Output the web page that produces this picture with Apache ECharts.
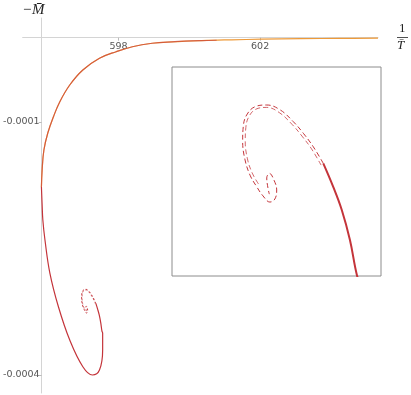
<!DOCTYPE html>
<html>
<head>
<meta charset="utf-8">
<script src="https://cdn.jsdelivr.net/npm/echarts@6/dist/echarts.min.js"></script>
<style>
  html, body { margin: 0; padding: 0; background: #fff; }
  #chart { width: 411px; height: 395px; }
</style>
</head>
<body>
<div id="chart"></div>
<script>
// tick labels
var xTicks = [598, 602];
var yTicks = [-0.0001, -0.0004];

// orange branch: from large 1/T down to the turning point
var orangeX = [605.33, 604.27, 603.15, 602.03, 601.19, 600.35, 599.51, 598.95, 598.39, 597.93, 597.46, 596.99, 596.62, 596.34, 596.16, 596.00, 595.89, 595.84, 595.82];
var orangeY = [-0.0000006, -0.0000008, -0.0000012, -0.0000018, -0.0000025, -0.0000034, -0.0000049, -0.0000066, -0.0000107, -0.0000166, -0.0000244, -0.0000383, -0.0000561, -0.0000759, -0.0000937, -0.000113, -0.0001332, -0.0001569, -0.0001771];

// red branch, upper part (lies on the orange one)
var redUpX = [600.77, 600.35, 599.51, 598.95, 598.39, 597.93, 597.46, 596.99, 596.62, 596.34, 596.16, 596.00, 595.89, 595.84, 595.82];
var redUpY = [-0.0000030, -0.0000034, -0.0000049, -0.0000066, -0.0000107, -0.0000166, -0.0000244, -0.0000383, -0.0000561, -0.0000759, -0.0000937, -0.000113, -0.0001332, -0.0001569, -0.0001771];

// red branch, lower part down into the spiral (solid)
var redX = [595.82, 595.84, 595.86, 595.92, 596.06, 596.30, 596.62, 596.99, 597.26, 597.46, 597.55, 597.55, 597.53, 597.494, 597.453, 597.410, 597.360];
var redY = [-0.0001771, -0.0001985, -0.0002162, -0.000240, -0.0002795, -0.0003191, -0.0003586, -0.0003903, -0.0004001, -0.0003942, -0.0003704, -0.0003506, -0.000348, -0.0003376, -0.0003289, -0.0003222, -0.0003154];

// dashed spiral (two close curves)
var dashAX = [597.360, 597.310, 597.260, 597.209, 597.143, 597.076, 597.017, 596.975, 596.958, 596.955, 596.967, 596.992, 597.026, 597.057, 597.092, 597.117, 597.126, 597.112, 597.090, 597.076, 597.082, 597.089];
var dashAY = [-0.0003154, -0.0003106, -0.0003067, -0.0003033, -0.0002999, -0.0002985, -0.000299, -0.0003014, -0.0003048, -0.0003091, -0.0003144, -0.0003188, -0.0003222, -0.0003248, -0.0003266, -0.0003257, -0.0003231, -0.0003202, -0.0003183, -0.0003196, -0.0003225, -0.0003243];
var dashBX = [597.349, 597.301, 597.253, 597.203, 597.139, 597.076, 597.022, 596.986, 596.971, 596.968, 596.979, 597.003, 597.035];
var dashBY = [-0.0003159, -0.0003112, -0.0003075, -0.0003041, -0.0003007, -0.0002992, -0.0002997, -0.0003019, -0.000305, -0.0003091, -0.0003141, -0.0003182, -0.0003214];

function pairs(xs, ys) {
  return xs.map(function (x, i) { return [x, ys[i]]; });
}

var RED = '#c4343a';
var ORANGE = '#ee9a38';

var chart = echarts.init(document.getElementById('chart'));

var option = {
  backgroundColor: '#fff',
  animation: false,
  grid: [
    { left: 19, top: 18, width: 359, height: 375, containLabel: false },
    { left: 172, top: 67, width: 209, height: 209, show: true, borderColor: '#8c8c8c', borderWidth: 1, backgroundColor: 'transparent' }
  ],
  xAxis: [
    {
      // axis sits on y = 0, labels hang below it
      type: 'value', gridIndex: 0, min: 595.29, max: 605.33,
      position: 'top', offset: -19.7,
      splitLine: { show: false },
      axisLine: { onZero: false, lineStyle: { color: '#d4d4d4', width: 1 } },
      axisTick: { show: true, inside: true, length: 3, customValues: xTicks, lineStyle: { color: '#bbb' } },
      axisLabel: { inside: true, customValues: xTicks, color: '#555', fontSize: 9.5, margin: 4, fontFamily: 'DejaVu Sans' }
    },
    { type: 'value', gridIndex: 1, min: 596.6, max: 597.65, show: false }
  ],
  yAxis: [
    {
      type: 'value', gridIndex: 0, min: -0.00042146, max: 0.00002337,
      offset: -19,
      splitLine: { show: false },
      axisLine: { show: true, onZero: false, lineStyle: { color: '#d4d4d4', width: 1 } },
      axisTick: { show: true, length: 3, customValues: yTicks, lineStyle: { color: '#bbb' } },
      axisLabel: {
        customValues: yTicks, color: '#555', fontSize: 9.5, margin: 2, fontFamily: 'DejaVu Sans',
        formatter: function (v) { return v.toFixed(4); }
      }
    },
    { type: 'value', gridIndex: 1, min: -0.000348, max: -0.0002875, show: false }
  ],
  graphic: [
    { type: 'text', left: 22, top: 3, style: { text: '\u2212M\u0304', font: 'italic 15px "Liberation Serif"', fill: '#222' } },
    { type: 'text', left: 399, top: 22, style: { text: '1', font: '13px "Liberation Serif"', fill: '#222' } },
    { type: 'line', shape: { x1: 397, y1: 37.5, x2: 408, y2: 37.5 }, style: { stroke: '#222', lineWidth: 0.8 } },
    { type: 'text', left: 397, top: 39, style: { text: 'T\u0304', font: 'italic 13px "Liberation Serif"', fill: '#222' } }
  ],
  series: [
    {
      type: 'line', xAxisIndex: 0, yAxisIndex: 0, data: pairs(orangeX, orangeY),
      showSymbol: false, smooth: 0.4, lineStyle: { color: ORANGE, width: 1.2 }, z: 2
    },
    {
      type: 'line', xAxisIndex: 0, yAxisIndex: 0, data: pairs(redUpX, redUpY),
      showSymbol: false, smooth: 0.4, lineStyle: { color: RED, width: 1.2, opacity: 0.6 }, z: 3
    },
    {
      type: 'line', xAxisIndex: 0, yAxisIndex: 0, data: pairs(redX, redY),
      showSymbol: false, smooth: 0.4, lineStyle: { color: RED, width: 1.2 }, z: 3
    },
    {
      type: 'line', xAxisIndex: 0, yAxisIndex: 0, data: pairs(dashAX, dashAY),
      showSymbol: false, smooth: 0.4, lineStyle: { color: RED, width: 1, type: [2, 2] }, z: 2
    },
    {
      type: 'line', xAxisIndex: 0, yAxisIndex: 0, data: pairs(dashBX, dashBY),
      showSymbol: false, smooth: 0.4, lineStyle: { color: RED, width: 1, type: [2, 2], opacity: 0.7 }, z: 2
    },
    {
      type: 'line', xAxisIndex: 1, yAxisIndex: 1, data: pairs(redX, redY), clip: true,
      showSymbol: false, smooth: 0.4, lineStyle: { color: RED, width: 2 }, z: 4
    },
    {
      type: 'line', xAxisIndex: 1, yAxisIndex: 1, data: pairs(dashAX, dashAY), clip: true,
      showSymbol: false, smooth: 0.4, lineStyle: { color: RED, width: 1, type: [5, 3] }, z: 4
    },
    {
      type: 'line', xAxisIndex: 1, yAxisIndex: 1, data: pairs(dashBX, dashBY), clip: true,
      showSymbol: false, smooth: 0.4, lineStyle: { color: RED, width: 1, type: [5, 3], opacity: 0.75 }, z: 4
    }
  ]
};

chart.setOption(option);
</script>
</body>
</html>
